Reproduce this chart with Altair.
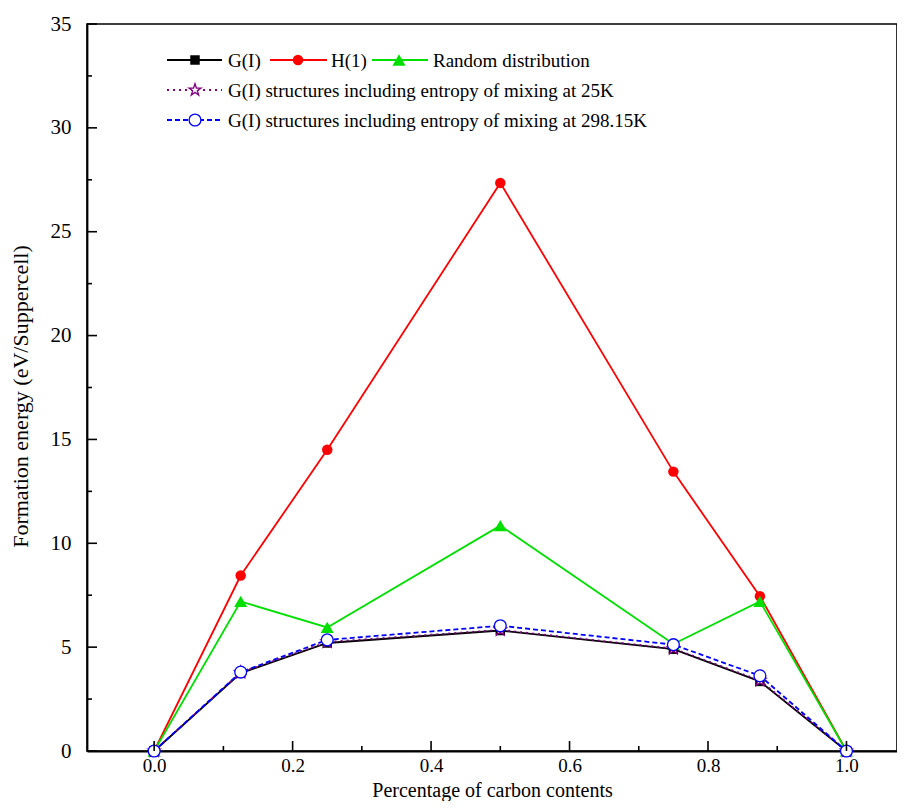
import altair as alt
import pandas as pd

# ---- data ----
x_vals = [0.0, 0.125, 0.25, 0.5, 0.75, 0.875, 1.0]
g_i = [0.0, 3.75, 5.2, 5.8, 4.9, 3.35, 0.0]
h_1 = [0.0, 8.45, 14.5, 27.35, 13.45, 7.45, 0.0]
random_dist = [0.0, 7.2, 5.95, 10.85, 5.15, 7.2, 0.0]
g_25k = [0.0, 3.78, 5.25, 5.83, 4.93, 3.4, 0.0]
g_298k = [0.0, 3.8, 5.35, 6.03, 5.12, 3.62, 0.0]

series_names = [
    "G(I)",
    "H(1)",
    "Random distribution",
    "G(I) structures including entropy of mixing at 25K",
    "G(I) structures including entropy of mixing at 298.15K",
]

x_major = [0.0, 0.2, 0.4, 0.6, 0.8, 1.0]
x_minor = [0.1, 0.3, 0.5, 0.7, 0.9]
y_major = [0, 5, 10, 15, 20, 25, 30, 35]
y_minor = [2.5, 7.5, 12.5, 17.5, 22.5, 27.5, 32.5]

x_title = "Percentage of carbon contents"
y_title = "Formation energy (eV/Suppercell)"

FONT = "Liberation Serif"
W, H = 810, 727

STAR = ("M0,-1L0.2245,-0.309L0.951,-0.309L0.363,0.118L0.588,0.809L0,0.382"
        "L-0.588,0.809L-0.363,0.118L-0.951,-0.309L-0.2245,-0.309Z")

xscale = alt.Scale(domain=[-0.097, 1.073], nice=False, zero=False)
yscale = alt.Scale(domain=[0, 35], nice=False, zero=False)


def df_for(vals, name):
    return pd.DataFrame({"x": x_vals, "y": vals, "series": name})


styles = [
    # data, name, color, dash, shape, filled, size
    (h_1, series_names[1], "#ff0000", None, "circle", True, 110),
    (random_dist, series_names[2], "#00e000", None, "triangle-up", True, 170),
    (g_i, series_names[0], "#000000", None, "square", True, 90),
    (g_25k, series_names[3], "#800080", [2, 4], STAR, False, 160),
    (g_298k, series_names[4], "#0000ff", [5, 3], "circle", False, 140),
]

layers = []
first = True
for vals, name, color, dash, shape, filled, size in styles:
    d = df_for(vals, name)
    line_kw = dict(color=color, strokeWidth=1.8)
    if dash:
        line_kw["strokeDash"] = dash
    if first:
        xenc = alt.X("x:Q", scale=xscale, axis=alt.Axis(
            values=x_major, format=".1f", title=x_title, tickSize=0,
            labelPadding=5, labelFontSize=19, grid=False,
            titleBaseline="alphabetic", titleFontSize=20, titleY=45.5))
        yenc = alt.Y("y:Q", scale=yscale, axis=alt.Axis(
            values=y_major, format="d", title=y_title, tickSize=0,
            labelPadding=16, grid=False, titleBaseline="alphabetic",
            titleX=-60, titleY=372, titleAngle=270))
        first = False
    else:
        xenc = alt.X("x:Q", scale=xscale)
        yenc = alt.Y("y:Q", scale=yscale)
    layers.append(alt.Chart(d).mark_line(**line_kw).encode(x=xenc, y=yenc))
    pt_kw = dict(shape=shape, size=size, color=color, opacity=1,
                 strokeWidth=1.3)
    if filled:
        pt_kw["filled"] = True
    else:
        pt_kw["filled"] = False
        pt_kw["fill"] = "white"
        pt_kw["fillOpacity"] = 1
    layers.append(alt.Chart(d).mark_point(**pt_kw).encode(
        x=alt.X("x:Q", scale=xscale), y=alt.Y("y:Q", scale=yscale)))

# inward ticks
tick_style = dict(color="black", strokeWidth=1.6)
layers.append(alt.Chart(pd.DataFrame({"v": y_major})).mark_rule(**tick_style).encode(
    y=alt.Y("v:Q", scale=yscale), x=alt.value(0), x2=alt.value(10)))
layers.append(alt.Chart(pd.DataFrame({"v": y_minor})).mark_rule(**tick_style).encode(
    y=alt.Y("v:Q", scale=yscale), x=alt.value(0), x2=alt.value(5)))
layers.append(alt.Chart(pd.DataFrame({"v": x_major})).mark_rule(**tick_style).encode(
    x=alt.X("v:Q", scale=xscale), y=alt.value(H), y2=alt.value(H - 10)))
layers.append(alt.Chart(pd.DataFrame({"v": x_minor})).mark_rule(**tick_style).encode(
    x=alt.X("v:Q", scale=xscale), y=alt.value(H), y2=alt.value(H - 5)))

# custom legend
legend_items = [
    # name index, line x0, x1, marker x, text x, y, color, dash, shape, filled, size
    (0, 80, 135, 108, 141, 36, "#000000", None, "square", True, 90),
    (1, 183, 240, 211, 244, 36, "#ff0000", None, "circle", True, 110),
    (2, 285, 341, 312, 346, 36, "#00e000", None, "triangle-up", True, 170),
    (3, 80, 135, 108, 141, 66, "#800080", [2, 4], STAR, False, 160),
    (4, 80, 135, 108, 141, 96, "#0000ff", [5, 3], "circle", False, 140),
]
for idx, x0, x1, xm, xt, yy, color, dash, shape, filled, size in legend_items:
    ld = pd.DataFrame({"label": [series_names[idx]]})
    rk = dict(color=color, strokeWidth=1.8)
    if dash:
        rk["strokeDash"] = dash
    layers.append(alt.Chart(ld).mark_rule(**rk).encode(
        x=alt.value(x0), x2=alt.value(x1), y=alt.value(yy)))
    pk = dict(shape=shape, size=size, color=color, opacity=1, strokeWidth=1.3)
    if filled:
        pk["filled"] = True
    else:
        pk["filled"] = False
        pk["fill"] = "white"
        pk["fillOpacity"] = 1
    layers.append(alt.Chart(ld).mark_point(**pk).encode(
        x=alt.value(xm), y=alt.value(yy)))
    layers.append(alt.Chart(ld).mark_text(
        align="left", baseline="middle", font=FONT, fontSize=19, color="black"
    ).encode(x=alt.value(xt), y=alt.value(yy + 1), text="label:N"))

chart = alt.layer(*layers).properties(
    width=W, height=H,
    autosize=alt.AutoSizeParams(type="none"),
    padding={"left": 79, "top": 16, "right": 0, "bottom": 50},
    background="white",
).configure_view(
    stroke="black", strokeWidth=1.6
).configure_axis(
    domainColor="black", domainWidth=1.8,
    labelFont=FONT, labelFontSize=21, labelColor="black",
    titleFont=FONT, titleFontSize=22, titleFontWeight="normal", titleColor="black",
)

chart.save("out.html", embed_options={"renderer": "svg", "actions": False})
